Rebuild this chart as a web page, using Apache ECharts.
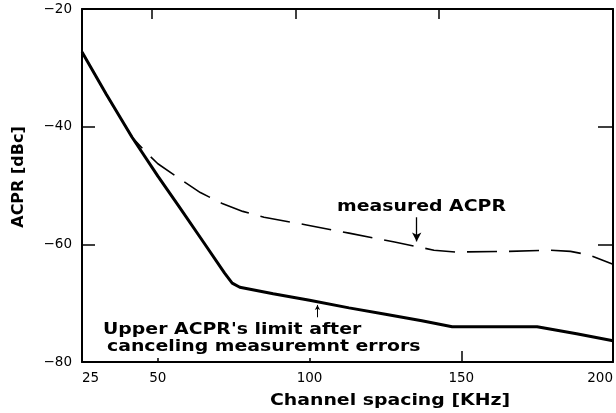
<!DOCTYPE html>
<html>
<head>
<meta charset="utf-8">
<script src="https://cdn.jsdelivr.net/npm/echarts@6/dist/echarts.min.js"></script>
<style>html,body{margin:0;padding:0;background:#fff}#c{width:616px;height:413px}</style>
</head>
<body>
<div id="c"></div>
<script>
// Upper ACPR's limit after canceling measurement errors (solid)
const limitX = [25, 33, 41.5, 50, 57, 65, 72, 74.5, 77, 88, 100, 113, 125, 137, 147, 160, 175, 188, 200];
const limitY = [-27.3, -34.5, -41.8, -48.4, -53.6, -59.6, -64.9, -66.6, -67.3, -68.4, -69.5, -70.8, -71.9, -73.0, -74.0, -74.0, -74.0, -75.2, -76.4];
// measured ACPR (dashed)
const measX = [25, 33, 41.5, 46, 50, 57, 64, 71, 78, 85, 99, 113, 128, 141, 148, 165, 179, 186, 192, 200];
const measY = [-27.3, -34.5, -41.8, -44.3, -46.3, -48.8, -51.2, -53.0, -54.4, -55.4, -56.7, -58.1, -59.6, -61.0, -61.3, -61.2, -61.0, -61.2, -61.8, -63.4];
const xTickLabels = [25, 50, 100, 150, 200];
const xTicks = [50, 100, 150];
const xTopTicks = [48, 95.5, 142.5];
const yTicks = [-80, -60, -40, -20];
// annotation arrows [x, yFrom, yTo]
const arrowMeasured = [135.3, -55.4, -59.5];
const arrowLimit = [102.6, -72.4, -70.3];

const solid = limitX.map((x, i) => [x, limitY[i]]);
const dashed = measX.map((x, i) => [x, measY[i]]);

const chart = echarts.init(document.getElementById('c'), null, {renderer: 'canvas'});
const lab = {color: '#000', fontFamily: 'DejaVu Sans', fontSize: 13.5};
const stretch = 1.18;
const bold = 'bold 16px "DejaVu Sans"';

chart.setOption({
  animation: false,
  backgroundColor: '#fff',
  grid: {left: 82, right: 0, top: 9, bottom: 51, containLabel: false},
  xAxis: [
    {
      type: 'value', position: 'bottom', min: 25, max: 200,
      axisLine: {show: true, lineStyle: {color: '#000', width: 2}},
      axisTick: {show: true, inside: true, length: 4, customValues: xTicks, lineStyle: {color: '#000', width: 1.5}},
      axisLabel: {show: true, customValues: xTickLabels, margin: 9, alignMinLabel: 'left', alignMaxLabel: 'right', ...lab},
      splitLine: {show: false}
    },
    {
      type: 'value', position: 'bottom', min: 25, max: 200,
      axisLine: {show: false},
      axisTick: {show: true, inside: true, length: 11, customValues: [150], lineStyle: {color: '#000', width: 1.5}},
      axisLabel: {show: false},
      splitLine: {show: false}
    },
    {
      type: 'value', position: 'top', min: 25, max: 200,
      axisLine: {show: true, lineStyle: {color: '#000', width: 2}},
      axisTick: {show: true, inside: true, length: 10, customValues: xTopTicks, lineStyle: {color: '#000', width: 1.5}},
      axisLabel: {show: false},
      splitLine: {show: false}
    }
  ],
  yAxis: [
    {
      type: 'value', position: 'left', min: -80, max: -20, interval: 20,
      axisLine: {show: true, lineStyle: {color: '#000', width: 2}},
      axisTick: {show: true, inside: true, length: 13, customValues: yTicks, lineStyle: {color: '#000', width: 1.5}},
      axisLabel: {show: true, margin: 10, customValues: yTicks, formatter: v => String(v).replace('-', '\u2212'), ...lab},
      splitLine: {show: false}
    },
    {
      type: 'value', position: 'right', min: -80, max: -20, interval: 20,
      axisLine: {show: true, lineStyle: {color: '#000', width: 2}},
      axisTick: {show: true, inside: true, length: 15, lineStyle: {color: '#000', width: 1.5}},
      axisLabel: {show: false},
      splitLine: {show: false}
    }
  ],
  series: [
    {
      type: 'line', name: 'measured ACPR', data: dashed, xAxisIndex: 0, yAxisIndex: 0,
      showSymbol: false, symbol: 'none',
      lineStyle: {color: '#000', width: 1.6, type: [30, 12]},
      markLine: {
        silent: true, symbol: ['none', 'arrow'], symbolSize: [7, 9],
        label: {show: false},
        lineStyle: {color: '#000', width: 1.3, type: 'solid'},
        data: [[{coord: [arrowMeasured[0], arrowMeasured[1]]}, {coord: [arrowMeasured[0], arrowMeasured[2]]}]]
      }
    },
    {
      type: 'line', name: 'limit', data: solid, xAxisIndex: 0, yAxisIndex: 0,
      showSymbol: false, symbol: 'none',
      lineStyle: {color: '#000', width: 3},
      markLine: {
        silent: true, symbol: ['none', 'arrow'], symbolSize: [4, 5],
        label: {show: false},
        lineStyle: {color: '#000', width: 1, type: 'solid'},
        data: [[{coord: [arrowLimit[0], arrowLimit[1]]}, {coord: [arrowLimit[0], arrowLimit[2]]}]]
      }
    }
  ],
  graphic: [
    {type: 'text', x: 337, y: 207, scaleX: stretch, style: {text: 'measured ACPR', font: bold, fill: '#000', textAlign: 'left', textVerticalAlign: 'middle'}},
    {type: 'text', x: 103, y: 330, scaleX: stretch, style: {text: "Upper ACPR's limit after", font: bold, fill: '#000', textAlign: 'left', textVerticalAlign: 'middle'}},
    {type: 'text', x: 107, y: 347, scaleX: stretch, style: {text: 'canceling measuremnt errors', font: bold, fill: '#000', textAlign: 'left', textVerticalAlign: 'middle'}},
    {type: 'text', x: 390, y: 401, scaleX: stretch, style: {text: 'Channel spacing [KHz]', font: bold, fill: '#000', textAlign: 'center', textVerticalAlign: 'middle'}},
    {type: 'text', x: 19, y: 177, rotation: Math.PI / 2, style: {text: 'ACPR [dBc]', font: bold, fill: '#000', textAlign: 'center', textVerticalAlign: 'middle'}}
  ]
});
</script>
</body>
</html>
